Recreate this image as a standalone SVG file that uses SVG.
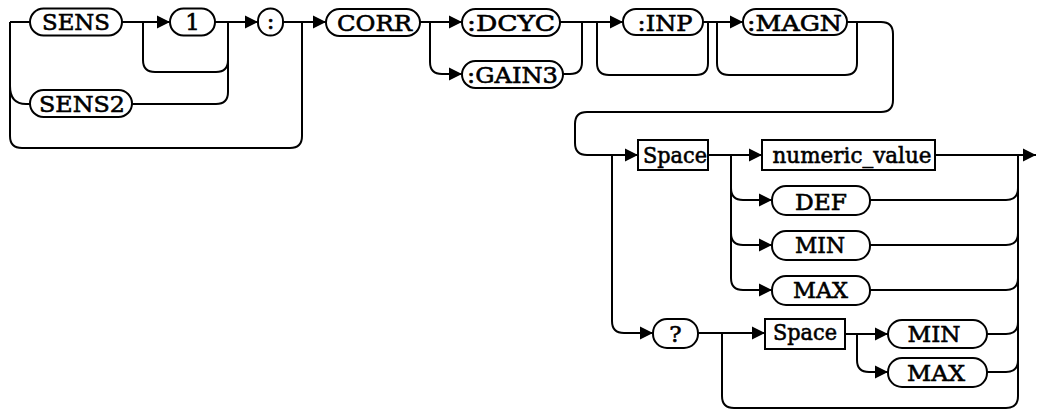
<svg xmlns="http://www.w3.org/2000/svg" width="1037" height="413" viewBox="0 0 1037 413">
<defs>
<style>
.c{fill:none;stroke:#000;stroke-width:2}
.p{fill:#fff;stroke:#000;stroke-width:2}
.t{font-family:"DejaVu Serif","Liberation Serif",serif;font-size:23px;fill:#000;stroke:#000;stroke-width:0.6;text-anchor:middle}
</style>
<marker id="a" markerWidth="14" markerHeight="14" refX="13" refY="7" orient="auto" markerUnits="userSpaceOnUse">
<path d="M0,0.5 L13,7 L0,13.5 Z" fill="#000"/>
</marker>
</defs>
<rect width="1037" height="413" fill="#fff"/>
<g id="connectors">
<path class="c" d="M10 22 H30"/>
<path class="c" d="M10 22 V136 Q10 148 22 148 H290 Q302 148 302 136 V22"/>
<path class="c" d="M10 86 Q10 104 26 104 H31"/>
<path class="c" d="M122 22 H170" marker-end="url(#a)"/>
<path class="c" d="M143 22 V60 Q143 72 155 72 H216 Q228 72 228 60"/>
<path class="c" d="M131 104 H216 Q228 104 228 92 V22"/>
<path class="c" d="M215 22 H258" marker-end="url(#a)"/>
<path class="c" d="M283 22 H326" marker-end="url(#a)"/>
<path class="c" d="M420 22 H462" marker-end="url(#a)"/>
<path class="c" d="M430 22 V62 Q430 74 442 74 H462" marker-end="url(#a)"/>
<path class="c" d="M563 74 H570 Q582 74 582 62 V22"/>
<path class="c" d="M560 22 H623" marker-end="url(#a)"/>
<path class="c" d="M597 22 V63 Q597 75 609 75 H696 Q708 75 708 63 V22"/>
<path class="c" d="M703 22 H743" marker-end="url(#a)"/>
<path class="c" d="M717 22 V63 Q717 75 729 75 H845 Q857 75 857 63 V22"/>
<path class="c" d="M847 22 H881 Q893 22 893 34 V100 Q893 112 881 112 H587 Q575 112 575 124 V143 Q575 155 587 155 H638" marker-end="url(#a)"/>
<path class="c" d="M708 155 H762" marker-end="url(#a)"/>
<path class="c" d="M935 155 H1036" marker-end="url(#a)"/>
<path class="c" d="M612 155 V321 Q612 333 624 333 H653" marker-end="url(#a)"/>
<path class="c" d="M731 155 V188 Q731 200 743 200 H772" marker-end="url(#a)"/>
<path class="c" d="M731 188 V233 Q731 245 743 245 H772" marker-end="url(#a)"/>
<path class="c" d="M731 233 V278 Q731 290 743 290 H772" marker-end="url(#a)"/>
<path class="c" d="M870 200 H1006 Q1018 200 1018 188"/>
<path class="c" d="M870 245 H1006 Q1018 245 1018 233"/>
<path class="c" d="M870 290 H1006 Q1018 290 1018 278"/>
<path class="c" d="M1018 155 V396"/>
<path class="c" d="M698 333 H765" marker-end="url(#a)"/>
<path class="c" d="M722 333 V396 Q722 408 734 408 H1006 Q1018 408 1018 396"/>
<path class="c" d="M845 334 H888" marker-end="url(#a)"/>
<path class="c" d="M857 334 V360 Q857 372 869 372 H888" marker-end="url(#a)"/>
<path class="c" d="M987 334 H1006 Q1018 334 1018 322"/>
<path class="c" d="M987 372 H1006 Q1018 372 1018 360"/>
</g>
<g id="n-sens"><rect class="p" x="30" y="8.5" width="92" height="27" rx="13.5"/><text class="t" x="76" y="30" textLength="68" lengthAdjust="spacingAndGlyphs">SENS</text></g>
<g id="n-1"><rect class="p" x="170" y="8.5" width="45" height="27" rx="13.5"/><text class="t" x="192.5" y="30">1</text></g>
<g id="n-sens2"><rect class="p" x="30" y="90" width="102" height="27" rx="13.5"/><text class="t" x="82" y="112" textLength="86" lengthAdjust="spacingAndGlyphs">SENS2</text></g>
<g id="n-colon"><rect class="p" x="258" y="8.5" width="25" height="27" rx="12.5"/><text class="t" x="270.5" y="29">:</text></g>
<g id="n-corr"><rect class="p" x="326" y="9" width="94" height="27" rx="13.5"/><text class="t" x="374.5" y="31" textLength="75" lengthAdjust="spacingAndGlyphs">CORR</text></g>
<g id="n-dcyc"><rect class="p" x="462" y="9" width="98" height="27" rx="13.5"/><text class="t" x="511" y="31" textLength="88" lengthAdjust="spacingAndGlyphs">:DCYC</text></g>
<g id="n-gain3"><rect class="p" x="462" y="61" width="101" height="27" rx="13.5"/><text class="t" x="512.5" y="83" textLength="91" lengthAdjust="spacingAndGlyphs">:GAIN3</text></g>
<g id="n-inp"><rect class="p" x="623" y="9" width="80" height="26" rx="13"/><text class="t" x="665" y="31" textLength="55" lengthAdjust="spacingAndGlyphs">:INP</text></g>
<g id="n-magn"><rect class="p" x="743" y="9" width="104" height="26" rx="13"/><text class="t" x="794.5" y="31" textLength="95" lengthAdjust="spacingAndGlyphs">:MAGN</text></g>
<g id="n-space1"><rect class="p" x="638" y="140" width="70" height="30"/><text class="t" x="675" y="163" textLength="64" lengthAdjust="spacingAndGlyphs">Space</text></g>
<g id="n-numeric"><rect class="p" x="762" y="140" width="173" height="30"/><text class="t" x="852" y="163" textLength="159" lengthAdjust="spacingAndGlyphs">numeric_value</text></g>
<g id="n-def"><rect class="p" x="772" y="186" width="98" height="29" rx="14"/><text class="t" x="821" y="210" textLength="52" lengthAdjust="spacingAndGlyphs">DEF</text></g>
<g id="n-min1"><rect class="p" x="772" y="231" width="98" height="29" rx="14"/><text class="t" x="820" y="253" textLength="50" lengthAdjust="spacingAndGlyphs">MIN</text></g>
<g id="n-max1"><rect class="p" x="772" y="276" width="98" height="29" rx="14"/><text class="t" x="820.5" y="298" textLength="55" lengthAdjust="spacingAndGlyphs">MAX</text></g>
<g id="n-query"><rect class="p" x="653" y="319" width="45" height="29" rx="14"/><text class="t" x="675.5" y="342">?</text></g>
<g id="n-space2"><rect class="p" x="765" y="319" width="80" height="30"/><text class="t" x="805" y="340" textLength="64" lengthAdjust="spacingAndGlyphs">Space</text></g>
<g id="n-min2"><rect class="p" x="888" y="320" width="99" height="28" rx="14"/><text class="t" x="934" y="342" textLength="53" lengthAdjust="spacingAndGlyphs">MIN</text></g>
<g id="n-max2"><rect class="p" x="888" y="358" width="99" height="29" rx="14"/><text class="t" x="936" y="381" textLength="58" lengthAdjust="spacingAndGlyphs">MAX</text></g>
</svg>
